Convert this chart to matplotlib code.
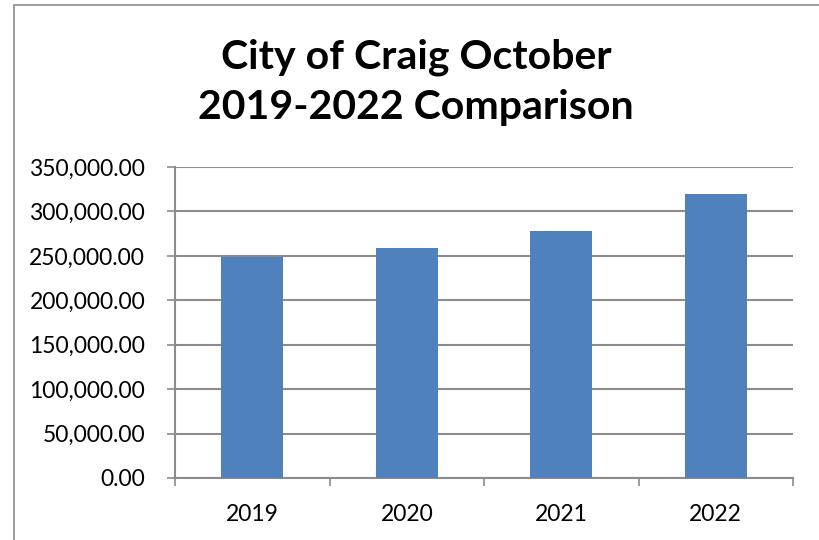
import numpy as np
import matplotlib.pyplot as plt
from matplotlib.patches import Rectangle
from matplotlib.ticker import FuncFormatter, FixedLocator

years = ['2019', '2020', '2021', '2022']
totals = [249000, 258800, 277600, 319300]
y_ticks = [0, 50000, 100000, 150000, 200000, 250000, 300000, 350000]

plt.rcParams['font.family'] = ['Lato', 'DejaVu Sans']

fig = plt.figure(figsize=(8.19, 5.40), dpi=100)
fig.patch.set_facecolor('white')

# chart frame, runs off the right and bottom edges
fig.patches.append(Rectangle((14 / 819, -0.1), 1.2, 1.1 - 5 / 540,
                             transform=fig.transFigure, fill=False,
                             edgecolor='#8c8c8c', linewidth=1.2))

ax = fig.add_axes([175 / 819, 1 - 478 / 540, (793 - 175) / 819, (478 - 167) / 540])

x = np.arange(len(years))
ax.bar(x, totals, width=0.4, color='#4f81bd', zorder=3)

ax.set_xlim(-0.5, len(years) - 0.5)
ax.set_ylim(0, 350000)
ax.set_yticks(y_ticks)
ax.yaxis.set_major_formatter(FuncFormatter(lambda v, p: f'{v:,.2f}'))
ax.set_xticks(x)
ax.set_xticklabels(years)
ax.xaxis.set_minor_locator(FixedLocator(np.arange(-0.5, len(years), 1.0)))

ax.grid(axis='y', color='#8c8c8c', linewidth=1.5, zorder=0)
for s in ['top', 'right']:
    ax.spines[s].set_visible(False)
for s in ['left', 'bottom']:
    ax.spines[s].set_color('#8c8c8c')
    ax.spines[s].set_linewidth(1.5)

ax.tick_params(axis='y', length=6, width=1.2, color='#8c8c8c', labelsize=16.5, pad=15.5)
ax.tick_params(axis='x', which='major', length=0, labelsize=16.5, pad=19)
ax.tick_params(axis='x', which='minor', length=6, width=1.2, color='#8c8c8c')

fig.text(416 / 819, 1 - 57 / 540, 'City of Craig October', ha='center', va='center',
         fontsize=29.5, fontweight='bold')
fig.text(416 / 819, 1 - 107 / 540, '2019-2022 Comparison', ha='center', va='center',
         fontsize=29.5, fontweight='bold')

fig.savefig('out.png', dpi=100, facecolor='white')
